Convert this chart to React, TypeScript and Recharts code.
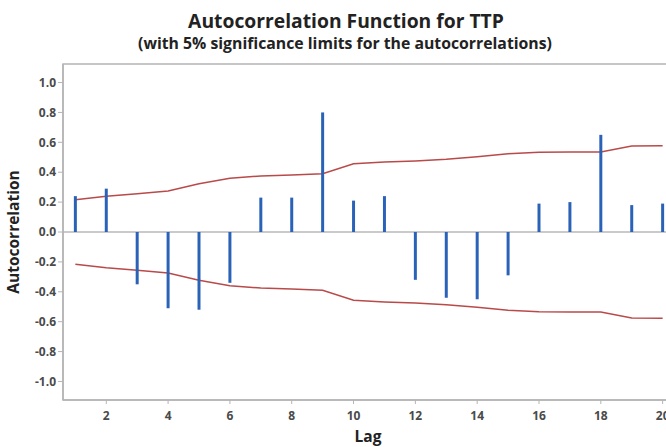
// ACF plot for TTP — lag bars with 5% significance limits
import {
  ComposedChart, Line, XAxis, YAxis, ReferenceLine, ReferenceArea
} from 'recharts';

const lags = [1, 2, 3, 4, 5, 6, 7, 8, 9, 10, 11, 12, 13, 14, 15, 16, 17, 18, 19, 20];
const acf = [0.24, 0.29, -0.35, -0.51, -0.52, -0.34, 0.23, 0.23, 0.8, 0.21,
  0.24, -0.32, -0.44, -0.45, -0.29, 0.19, 0.2, 0.65, 0.18, 0.19];
const limit = [0.216, 0.239, 0.256, 0.274, 0.323, 0.359, 0.375, 0.381, 0.39, 0.457,
  0.468, 0.475, 0.486, 0.504, 0.524, 0.533, 0.535, 0.535, 0.575, 0.577];
const xTicks = [2, 4, 6, 8, 10, 12, 14, 16, 18, 20];
const yTicks = [-1, -0.8, -0.6, -0.4, -0.2, 0, 0.2, 0.4, 0.6, 0.8, 1];

const data = lags.map((lag, i) => ({
  lag,
  acf: acf[i],
  upper: limit[i],
  lower: -limit[i],
}));

const font = '"Open Sans", "Noto Sans", sans-serif';
const tickStyle = { fontSize: 12, fontWeight: 700, fill: '#4a4a4a', fontFamily: font };
const frame = '#b4b4b4';

export default function App() {
  return (
    <div style={{
      position: 'absolute', left: 0, top: 0, width: 666, height: 447,
      overflow: 'hidden', background: '#fff', fontFamily: font,
    }}>
      <div style={{ position: 'absolute', top: 9, left: 346, transform: 'translateX(-50%)', whiteSpace: 'nowrap',
        fontSize: 19.3, fontWeight: 700, color: '#222', lineHeight: '24px' }}>
        Autocorrelation Function for TTP
      </div>
      <div style={{ position: 'absolute', top: 33, left: 345, transform: 'translateX(-50%)', whiteSpace: 'nowrap',
        fontSize: 15.8, fontWeight: 700, color: '#222', lineHeight: '20px' }}>
        (with 5% significance limits for the autocorrelations)
      </div>
      <div style={{ position: 'absolute', left: 13, top: 232, transform: 'translate(-50%, -50%) rotate(-90deg)',
        fontSize: 15.5, fontWeight: 700, color: '#222', whiteSpace: 'nowrap' }}>
        Autocorrelation
      </div>
      <div style={{ position: 'absolute', left: 368, top: 436, transform: 'translate(-50%, -50%)',
        fontSize: 15.5, fontWeight: 700, color: '#222', lineHeight: '20px' }}>
        Lag
      </div>
      <ComposedChart
        width={700}
        height={447}
        data={data}
        margin={{ top: 64, right: 25, bottom: 17, left: 0 }}
        style={{ position: 'absolute', left: 0, top: 0 }}
      >
        <XAxis
          dataKey="lag"
          type="number"
          domain={[0.6, 20.4]}
          ticks={xTicks}
          allowDataOverflow
          height={30}
          tick={tickStyle}
          tickSize={4}
          tickMargin={7}
          tickLine={{ stroke: frame }}
          axisLine={{ stroke: frame, strokeWidth: 1.5 }}
        />
        <YAxis
          type="number"
          domain={[-1.124, 1.124]}
          ticks={yTicks}
          allowDataOverflow
          width={63}
          tick={tickStyle}
          tickSize={5}
          tickLine={{ stroke: frame }}
          axisLine={{ stroke: frame, strokeWidth: 1.5 }}
          tickFormatter={(v: number) => v.toFixed(1)}
        />
        <ReferenceArea x1={0.6} x2={20.4} y1={-1.124} y2={1.124} fill="none" stroke={frame} strokeWidth={1.5} />
        <ReferenceLine y={0} stroke="#b8b8b8" strokeWidth={1.5} />
        <Line type="linear" dataKey="upper" stroke="#b94a4a" strokeWidth={1.5} dot={false} isAnimationActive={false} />
        <Line type="linear" dataKey="lower" stroke="#b94a4a" strokeWidth={1.5} dot={false} isAnimationActive={false} />
        {data.map(d => (
          <ReferenceLine
            key={d.lag}
            segment={[{ x: d.lag, y: 0 }, { x: d.lag, y: d.acf }]}
            stroke="#2a62b8"
            strokeWidth={3}
          />
        ))}
      </ComposedChart>
    </div>
  );
}
